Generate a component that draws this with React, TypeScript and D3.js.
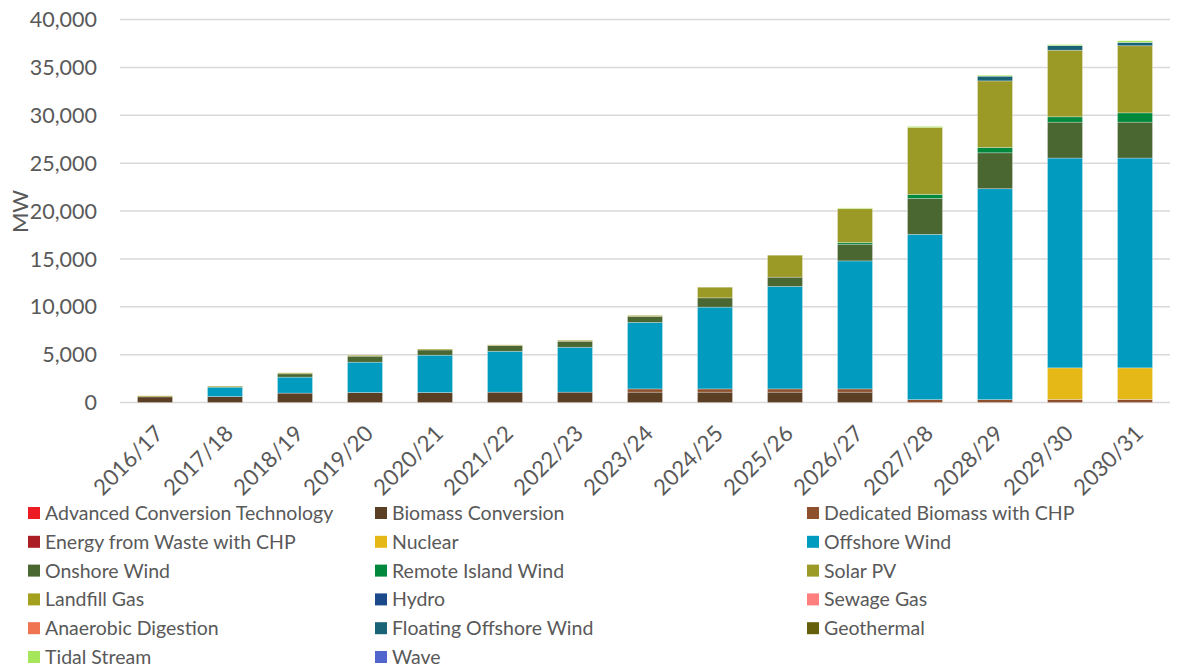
import React from "react";
import * as d3 from "d3";

const categories = ["2016/17","2017/18","2018/19","2019/20","2020/21","2021/22","2022/23","2023/24","2024/25","2025/26","2026/27","2027/28","2028/29","2029/30","2030/31"];

const seriesNames = [
  "Advanced Conversion Technology","Biomass Conversion","Dedicated Biomass with CHP",
  "Energy from Waste with CHP","Nuclear","Offshore Wind",
  "Onshore Wind","Remote Island Wind","Solar PV",
  "Landfill Gas","Hydro","Sewage Gas",
  "Anaerobic Digestion","Floating Offshore Wind","Geothermal",
  "Tidal Stream","Wave"
];

const seriesColors = [
  "#ED1C24","#5A3F24","#8E4F2C",
  "#AA1E24","#E6B817","#009BBF",
  "#4A6631","#00893D","#9C9A27",
  "#A2A01C","#1A4A8A","#FF7F7F",
  "#F07352","#1A6276","#655F0B",
  "#A5E65A","#5066CC"
];

const advancedConversion = [0,0,0,0,0,0,0,0,0,0,0,0,0,0,0];
const biomassConversion = [590,620,980,1040,1040,1080,1080,1080,1080,1080,1080,0,0,0,0];
const dedicatedBiomass = [0,0,0,0,0,0,0,340,340,340,340,300,300,320,320];
const energyFromWaste = [0,0,0,0,0,0,0,0,0,0,0,0,0,0,0];
const nuclear = [0,0,0,0,0,0,0,0,0,0,0,0,0,3300,3300];
const offshoreWind = [0,980,1670,3170,3900,4270,4690,6950,8540,10700,13370,17260,22030,21910,21910];
const onshoreWind = [0,0,350,625,550,590,625,625,970,970,1740,3750,3750,3750,3750];
const remoteIslandWind = [0,0,0,0,0,0,0,0,0,0,170,420,560,560,970];
const solarPV = [110,110,100,100,100,80,100,100,1110,2290,3540,7010,6950,6950,7010];
const landfillGas = [0,0,0,0,0,0,0,0,0,0,0,0,0,0,0];
const hydro = [0,0,0,0,0,0,0,0,0,0,0,0,0,0,0];
const sewageGas = [0,0,0,0,0,0,0,0,0,0,0,0,0,0,0];
const anaerobicDigestion = [0,0,0,0,0,0,0,0,0,0,0,0,0,0,0];
const floatingOffshore = [0,0,0,0,0,0,0,0,0,0,0,0,490,490,350];
const geothermal = [0,0,0,0,0,0,0,0,0,0,0,0,0,0,0];
const tidalStream = [0,0,0,0,0,0,0,0,0,0,80,100,100,100,170];
const wave = [0,0,0,0,0,0,0,0,0,0,0,0,0,0,0];

const seriesValues = [
  advancedConversion, biomassConversion, dedicatedBiomass,
  energyFromWaste, nuclear, offshoreWind,
  onshoreWind, remoteIslandWind, solarPV,
  landfillGas, hydro, sewageGas,
  anaerobicDigestion, floatingOffshore, geothermal,
  tidalStream, wave
];

const yTicks = [0,5000,10000,15000,20000,25000,30000,35000,40000];

const W = 1177, H = 669;
const M = { left: 120, right: 1170, top: 19.5, bottom: 402.5 };
const FONT = "Lato, 'Open Sans', sans-serif";
const TXT = "#595959";

export default function App() {
  const table = categories.map((c, i) => {
    const row: any = { cat: c };
    seriesNames.forEach((s, k) => { row[s] = seriesValues[k][i]; });
    return row;
  });
  const stacked = d3.stack().keys(seriesNames)(table);
  const x = d3.scaleBand().domain(categories).range([M.left, M.right]).paddingInner(0.5).paddingOuter(0.25);
  const y = d3.scaleLinear().domain([0, 40000]).range([M.bottom, M.top]);
  const fmt = d3.format(",");

  return (
    <svg width={W} height={H} style={{ position: "absolute", left: 0, top: 0, background: "#fff" }} fontFamily={FONT}>
      {yTicks.map(t => (
        <g key={t}>
          <line x1={M.left} x2={M.right} y1={y(t)} y2={y(t)} stroke="#D9D9D9" strokeWidth={1.5} />
          <text x={97} y={y(t)} dy="0.36em" textAnchor="end" fontSize={21.5} fill={TXT}>{fmt(t)}</text>
        </g>
      ))}
      <text transform={`translate(28,${211.5}) rotate(-90)`} textAnchor="middle" fontSize={22} fill={TXT}>MW</text>
      {stacked.map((layer, k) => (
        <g key={layer.key} fill={seriesColors[k]}>
          {layer.map((d, i) => {
            const h = y(d[0]) - y(d[1]);
            if (h <= 0) return null;
            return (
              <rect key={i} x={x(categories[i])} width={x.bandwidth()} y={y(d[1])} height={h}
                stroke="#ffffff" strokeOpacity={0.35} strokeWidth={0.8} />
            );
          })}
        </g>
      ))}
      {categories.map(c => {
        const cx = (x(c) as number) + x.bandwidth() / 2 + 9.5;
        return (
          <text key={c} transform={`translate(${cx},${435}) rotate(-45)`} textAnchor="end" fontSize={22.2} fill={TXT}>{c}</text>
        );
      })}
      {seriesNames.map((s, k) => {
        const col = k % 3, row = Math.floor(k / 3);
        const lx = [28, 375, 807][col];
        const ly = 513 + row * 28.8;
        return (
          <g key={s}>
            <rect x={lx} y={ly - 6} width={12} height={12} fill={seriesColors[k]} />
            <text x={lx + 17} y={ly} dy="0.36em" fontSize={19.5} fill={TXT}>{s}</text>
          </g>
        );
      })}
    </svg>
  );
}
